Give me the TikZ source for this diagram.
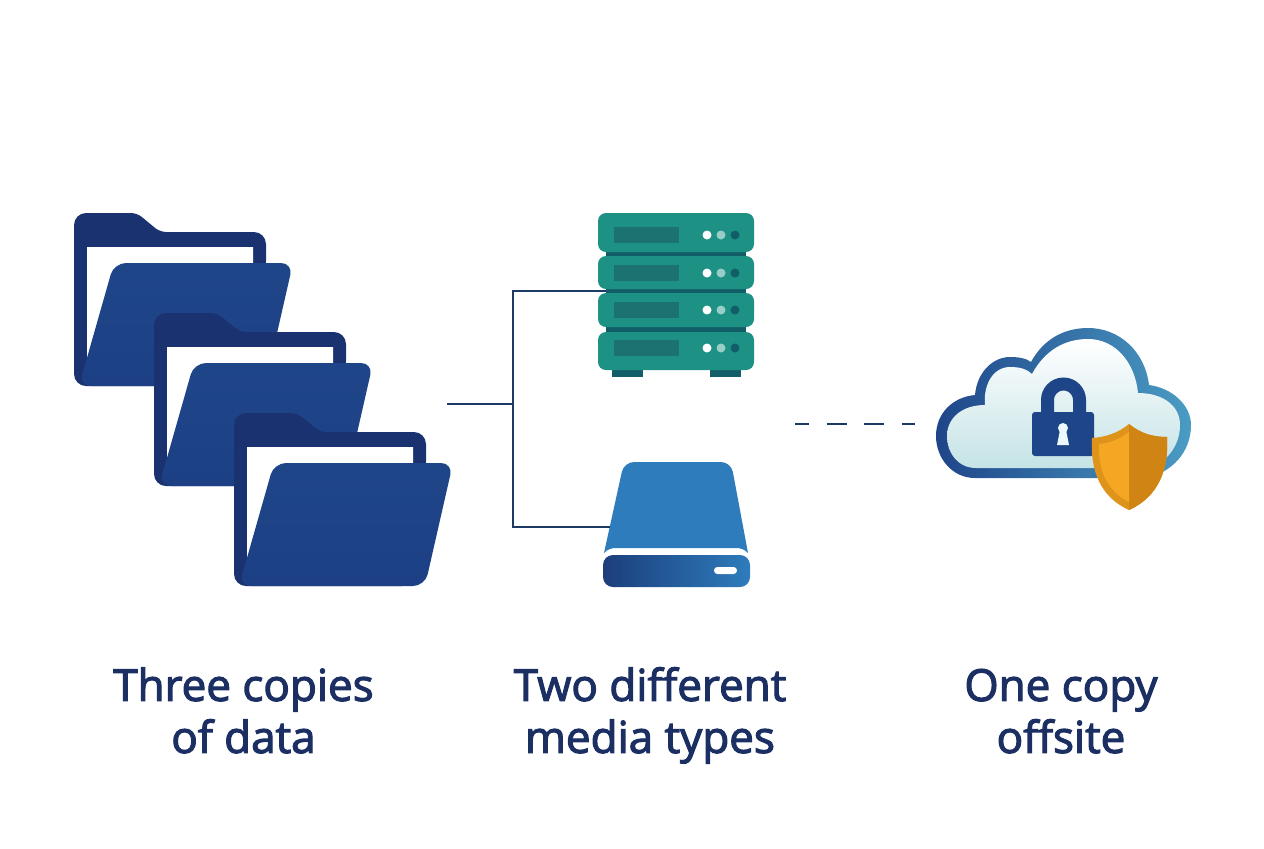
\documentclass[tikz,border=0pt]{standalone}
\usepackage{fontspec}
\setmainfont{Open Sans}
\font\labelfont="Open Sans:embolden=2.6" at 22pt
\definecolor{navy}{HTML}{1B2F63}
\definecolor{wire}{HTML}{1C3A63}
\definecolor{fback}{HTML}{1A3370}
\definecolor{ftop}{HTML}{1F4589}
\definecolor{fbot}{HTML}{1D4085}
\definecolor{teal}{HTML}{1C9184}
\definecolor{tealdk}{HTML}{1B7270}
\definecolor{band}{HTML}{125E68}
\definecolor{drive}{HTML}{2E7CBC}
\definecolor{clhi}{HTML}{4A9CC4}
\definecolor{cllo}{HTML}{C5E3E6}
\definecolor{orlt}{HTML}{F5A623}
\definecolor{ormd}{HTML}{DE931B}
\definecolor{ordk}{HTML}{CF8414}
\tikzset{lb/.style = {text=navy, align=center, font=\fontsize{22}{26}\selectfont\labelfont},
           ln/.style = {draw=wire, line width=1pt},
           rw/.style = {fill=teal, rounded corners=4pt, minimum width=78pt, inner sep=0pt},
           bd/.style = {fill=band, minimum width=70pt, minimum height=3.5pt, inner sep=0pt},
           ft/.style = {fill=band, minimum width=15.5pt, minimum height=3.5pt, inner sep=0pt},
           sc/.style = {fill=tealdk, minimum width=32.5pt, minimum height=8pt, inner sep=0pt},
           dt/.style = {circle, minimum size=4.5pt, inner sep=0pt},
           folder/.pic = {
             \fill[fback] [rounded corners=6pt] (0,173) -- (0,0) [rounded corners=3pt] -- (63,0) -- (86,19)
               [rounded corners=6pt] -- (192,19) -- (192,60) -- (180,173) -- cycle;
             \fill[white] (13,34) -- (179,34) -- (179,60) -- (13,150) -- cycle;
             \shade[top color=ftop, bottom color=fbot, rounded corners=6pt] (40,50) -- (219,50)
               -- (191,173) -- (5,173) -- cycle;},
           panel/.pic = {
             \node[sc] (-s) at (0,0) {};
             \node[dt, fill=white] (-a) at (61,0) {};
             \node[dt, fill=teal!45!white] (-b) at (75,0) {};
             \node[dt, fill=band] (-c) at (89,0) {};}}

\begin{document}
\begin{tikzpicture}[x=0.5pt, y=-0.5pt]
    \useasboundingbox (0,0) rectangle (1264,848);
    % folders
    \pic (f1) at (74,213) {folder};
    \pic (f2) at (154,313) {folder};
    \pic (f3) at (234,413) {folder};
    % server
    \node[bd] (b1) at (676,254) {}; \node[bd] (b2) at (676,291) {}; \node[bd] (b3) at (676,330) {};
    \node[ft] (l) at (627,373) {}; \node[ft] (r) at (725,373) {};
    \node[rw, minimum height=19.5pt] (r1) at (676,232.5) {};
    \node[rw, minimum height=16.5pt] (r2) at (676,272.5) {};
    \node[rw, minimum height=17pt] (r3) at (676,310) {};
    \node[rw, minimum height=19pt] (r4) at (676,351) {};
    \pic (p1) at (646,235) {panel};
    \pic (p2) at (646,273) {panel};
    \pic (p3) at (646,310) {panel};
    \pic (p4) at (646,348) {panel};
    % drive
    \fill[drive] (604,553) [rounded corners=5pt] -- (624,462) -- (731,462) [sharp corners] -- (748,553)
      .. controls (744,549) and (741,548) .. (735,548) -- (617,548) .. controls (611,548) and (608,549) .. (604,553) -- cycle;
    \shade[left color=ftop!90!black, right color=drive, rounded corners=5pt] (603,555) -- (750,555) -- (750,587) -- (603,587) -- cycle;
    \fill[white, rounded corners=1.7pt] (714,567) rectangle (737,574);
    % cloud
    \shade[left color=ftop, right color=clhi] (975,478) .. controls (952,478) and (936,458) .. (936,436)
      .. controls (936,413) and (953,397) .. (975,395) .. controls (977,372) and (993,357) .. (1010,357)
      .. controls (1018,357) and (1026,358) .. (1031,362) .. controls (1043,340) and (1063,328) .. (1088,328)
      .. controls (1120,328) and (1145,352) .. (1149,385) .. controls (1172,388) and (1191,405) .. (1191,425)
      .. controls (1191,452) and (1172,473) .. (1145,478) -- cycle;
    \shade[top color=white, bottom color=cllo] (976,468) .. controls (958,468) and (947,453) .. (947,436)
      .. controls (947,418) and (962,405) .. (985,405) .. controls (983,385) and (993,367) .. (1010,367)
      .. controls (1020,367) and (1027,369) .. (1032,374) .. controls (1045,350) and (1065,339) .. (1088,339)
      .. controls (1115,339) and (1135,362) .. (1138,393) .. controls (1162,393) and (1180,405) .. (1180,425)
      .. controls (1180,447) and (1165,465) .. (1145,468) -- cycle;
    % lock
    \draw[ftop, line width=6.5pt] (1047.5,412) -- (1047.5,400) arc[start angle=180, end angle=360, radius=16] -- (1079.5,412);
    \fill[ftop, rounded corners=1.5pt] (1032,412) rectangle (1094,456);
    \fill[cyan!8!white] (1063,428) circle[radius=5];
    \fill[cyan!8!white] (1060,430) -- (1066,430) -- (1069,445) -- (1057,445) -- cycle;
    % shield
    \fill[ormd] (1129,424) .. controls (1118,433) and (1106,437) .. (1092,438) .. controls (1090,470) and (1100,497) .. (1129,510)
      .. controls (1158,497) and (1169,470) .. (1167,437) .. controls (1152,437) and (1140,433) .. (1129,424) -- cycle;
    \fill[ordk] (1129,424) -- (1129,510) .. controls (1158,497) and (1169,470) .. (1167,437) .. controls (1152,437) and (1140,433) .. (1129,424) -- cycle;
    \fill[orlt] (1129,432) .. controls (1120,439) and (1110,443) .. (1099,444) .. controls (1098,470) and (1107,491) .. (1129,502) -- cycle;
    % connectors
    \coordinate (fo) at (447,404); \coordinate (jn) at (513,404); \coordinate (hd) at (610,527);
    \coordinate (dl) at (795,424); \coordinate (dr) at (915,424);
    \draw[ln] (fo) -- (jn);
    \draw[ln] (b2.west) -| (jn);
    \draw[ln] (hd) -| (jn);
    \draw[ln, line width=1.25pt, dash pattern=on 10pt off 8.75pt, dash phase=3pt] (dl) -- (dr);
    % labels
    \node[lb] (t1) at (243.5,716.5) {\strut Three copies\\\strut of data};
    \node[lb] (t2) at (650,716.5) {\strut Two different\\\strut media types};
    \node[lb] (t3) at (1061,716.5) {\strut One copy\\\strut offsite};
  \end{tikzpicture}
\end{document}
